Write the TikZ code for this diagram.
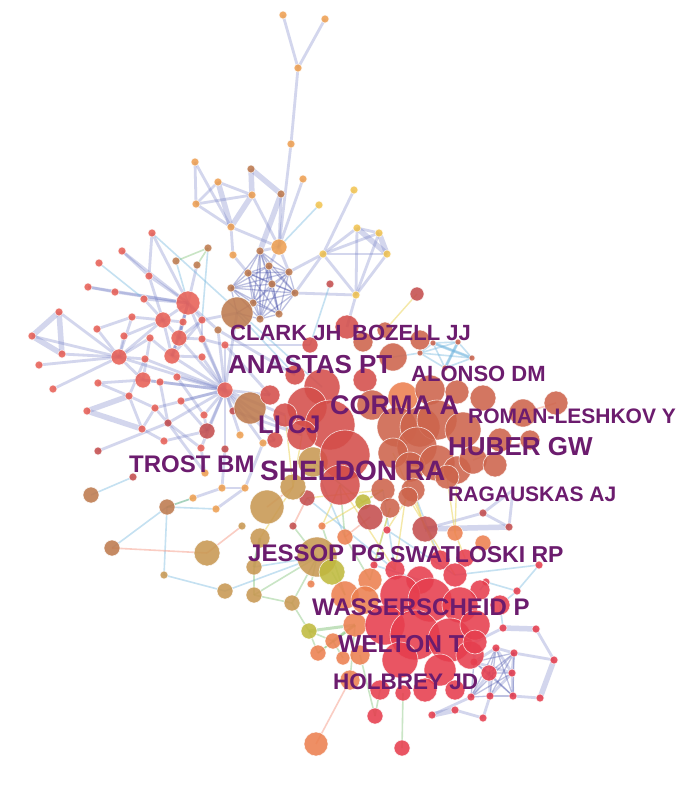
\documentclass[tikz,border=0pt]{standalone}
\usepackage{fontspec}
\setmainfont{Liberation Sans}
\definecolor{cR}{RGB}{232,96,86}
\definecolor{cO}{RGB}{238,160,82}
\definecolor{cB}{RGB}{190,122,78}
\definecolor{cY}{RGB}{242,196,82}
\definecolor{cT}{RGB}{200,152,82}
\definecolor{cD}{RGB}{196,78,78}
\definecolor{cC}{RGB}{205,100,76}
\definecolor{cRd}{RGB}{212,78,74}
\definecolor{cW}{RGB}{230,62,78}
\definecolor{cP}{RGB}{236,128,80}
\definecolor{cL}{RGB}{192,186,62}
\definecolor{lblc}{RGB}{108,28,110}
\definecolor{eblue}{RGB}{110,122,196}
\definecolor{ecyan}{RGB}{110,180,222}
\definecolor{egreen}{RGB}{120,190,110}
\definecolor{eyel}{RGB}{236,214,96}
\definecolor{epink}{RGB}{246,156,136}
\definecolor{edark}{RGB}{70,80,170}
\pgfdeclarelayer{bg}
\pgfdeclarelayer{edgelayer}
\pgfsetlayers{bg,edgelayer,main}
\tikzset{
  nd/.style={circle,inner sep=0pt,draw=white,draw opacity=0.8,line width=0.6pt,fill opacity=0.88},
  eb/.style={draw=eblue,opacity=0.3,line width=2.8pt},
  ebt/.style={draw=eblue,opacity=0.3,line width=5.5pt},
  ec/.style={draw=ecyan,opacity=0.4,line width=1.6pt},
  ect/.style={draw=ecyan,opacity=0.45,line width=3pt},
  eg/.style={draw=egreen,opacity=0.4,line width=1.6pt},
  egt/.style={draw=egreen,opacity=0.45,line width=3pt},
  ey/.style={draw=eyel,opacity=0.55,line width=1.4pt},
  eo/.style={draw=epink,opacity=0.5,line width=1.6pt},
  ed/.style={draw=edark,opacity=0.35,line width=1.3pt},
  lbl/.style={anchor=west,inner sep=0pt,text=lblc}
}
\newcommand\authlab[5]{%
  \node[lbl,font=\fontsize{#4}{#4}\selectfont\bfseries] (#1) at (#2,#3) {#5};}
\begin{document}
\begin{tikzpicture}[x=1pt,y=-1pt]
\begin{pgfonlayer}{bg}
\fill[white] (0,0) rectangle (700,793);
\end{pgfonlayer}
\useasboundingbox (0,0) rectangle (700,793);
% ---------- nodes: periphery ----------
\foreach \n/\x/\y/\r/\c in {
 a1/283/15/4/cO, a2/325/19/4/cO, a3/298/68/4/cO, a4/291/144/4/cO, a5/303/179/4/cO,
 a6/195/162/4/cO, a7/218/182/4/cO, a8/251/169/4/cB, a9/252/195/4/cO, a10/281/194/4/cB,
 a11/196/204/4/cO, a12/231/227/4/cO, a13/319/205/4/cY, a14/279/247/8/cO, a15/233/255/4/cO,
 a16/323/254/4/cY, a17/354/190/4/cY, a18/357/228/4/cY, a19/379/233/4/cY, a20/387/254/4/cY,
 a21/356/295/4/cY, a22/330/284/4/cD,
 d1/260/251/4/cB, d2/269/266/4/cB, d3/289/272/4/cB, d4/248/273/4/cB, d5/272/284/4/cB,
 d6/231/288/4/cB, d7/295/293/4/cB, d8/253/303/4/cB, d9/279/314/4/cB, d10/260/319/4/cB,
 b1/152/233/4/cR, b2/122/251/4/cR, b3/99/263/4/cR, b4/88/287/4/cR, b5/115/292/4/cR,
 b6/149/276/4/cR, b7/144/299/4/cR, b8/176/261/4/cB, b9/197/265/4/cB, b10/208/248/4/cB,
 b11/188/303/12/cR, b12/163/320/8/cR, b13/183/322/4/cR, b14/202/320/4/cR, b15/132/317/4/cR,
 b16/179/338/8/cR, b17/150/338/4/cR, b18/124/336/4/cR, b19/97/329/4/cR, b20/59/312/4/cR,
 b21/32/336/4/cR, b22/62/354/4/cR, b23/39/365/4/cR, b24/53/389/4/cR, b25/119/357/8/cR,
 b26/145/359/4/cR, b27/172/356/8/cR, b28/202/339/4/cR, b29/202/357/4/cR, b30/225/345/4/cR,
 b31/218/330/4/cB, b32/143/380/8/cR, b33/160/382/4/cR, b34/177/377/4/cR, b35/225/390/8/cR,
 b36/98/383/4/cR, b37/129/396/4/cR, b38/155/408/4/cR, b39/181/401/4/cR, b40/204/415/4/cR,
 b41/168/423/4/cD, b42/207/431/8/cD, b43/87/411/4/cR, b44/142/429/4/cR, b45/164/441/4/cR,
 b46/98/451/4/cD, b47/201/448/4/cR, b48/225/449/4/cD, b49/233/411/4/cD, b50/240/435/4/cO,
 b51/133/477/4/cD, b52/263/443/4/cO,
 c1/205/473/4/cO, c2/222/488/4/cO, c3/245/488/4/cO, c4/193/498/4/cO, c5/216/509/4/cO,
 c6/91/495/8/cB, c7/167/507/8/cB, c10/112/548/8/cB, c11/207/553/13/cT, c12/164/575/4/cT,
 c13/225/591/8/cT, c14/254/595/8/cT, c15/292/603/8/cT, c16/254/567/8/cT, c17/242/526/4/cT,
 c18/260/538/10/cT, c27/293/526/4/cD, c28/322/526/4/cP, c30/307/498/8/cD,
 e1/402/748/8/cW, e2/375/716/8/cW, e3/403/693/8/cW,
 e5/496/648/4/cW, e6/514/653/4/cW, e7/554/660/4/cW, e8/540/698/4/cW, e9/513/696/4/cW,
 e10/490/696/4/cW, e11/471/697/4/cW, e12/474/662/4/cW, e13/512/673/4/cW, e14/432/715/4/cW,
 e15/455/710/4/cW, e16/483/718/4/cW, e17/503/628/4/cW, e18/536/629/4/cW, e19/517/591/4/cW,
 e20/486/582/4/cW, e21/539/565/4/cW, e22/509/527/4/cD, e25/374/565/4/cW, e26/483/513/4/cD,
 e29/483/543/8/cP, e31/387/530/4/cW,
 lb1/433/343/3/cC, lb2/458/342/3/cC, lb3/472/358/3/cC, lb4/445/368/3/cC, lb5/420/353/3/cC,
 k4/417/294/7/cD, k46/310/345/8/cRd, k47/275/440/8/cRd}{\node[nd,fill=\c,minimum size=\r*2pt] (\n) at (\x,\y) {};}
% ---------- nodes: big clusters ----------
\foreach \n/\x/\y/\r/\c in {
 bigA/237/313/16/cB, bigB/250/408/16/cB,
 c8/267/507/17/cT, c9/293/487/13/cT, c19/317/557/20/cT, c20/332/572/13/cL, c21/311/584/4/cP,
 c22/309/631/8/cL, c23/318/653/8/cP, c24/333/641/8/cP, c25/343/658/7/cP, c26/316/744/12/cP,
 c29/345/537/8/cP, c31/363/502/8/cL,
 k1/347/327/12/cRd, k2/363/342/10/cC, k3/393/357/14/cC, k5/322/387/18/cRd, k6/307/407/20/cRd,
 k7/330/425/25/cRd, k8/302/435/15/cRd, k36/285/415/12/cRd, k37/270/395/10/cRd, k38/295/375/10/cRd,
 k39/420/340/10/cC, k40/385/330/8/cC, k34/365/380/12/cRd, k35/372/405/15/cC,
 k10/313/462/15/cT, k9/345/455/25/cRd, k11/340/485/20/cRd,
 k12/403/397/15/cP, k13/430/390/15/cC, k14/457/392/12/cC, k15/483/398/13/cC, k16/523/413/14/cC,
 k17/556/403/12/cC, k18/397/427/20/cC, k19/420/427/20/cC, k20/437/420/20/cC, k21/463/430/18/cC,
 k22/417/447/20/cC, k23/393/453/15/cC, k24/410/467/15/cC, k25/437/463/18/cC, k26/457/470/14/cC,
 k27/473/460/14/cC, k28/447/477/12/cC, k29/383/490/12/cC, k30/413/490/12/cC, k32/408/497/10/cC,
 k33/390/508/10/cC, k42/500/440/12/cC, k43/495/465/12/cC, k44/530/440/10/cC,
 e32/370/517/13/cD, e23/425/529/13/cD, e24/455/533/8/cP,
 w17/345/595/14/cP, w18/370/580/12/cP, w15/365/600/14/cP, w16/355/625/12/cP, w26/360/655/10/cP,
 w22/350/680/10/cP, w19/395/570/10/cW, w20/440/560/10/cW, w21/465/558/9/cW,
 w11/420/580/14/cW, w12/455/575/12/cW, w13/480/590/10/cW, w14/500/605/10/cW,
 w1/400/595/20/cW, w2/430/600/22/cW, w3/460/605/18/cW, w4/385/625/20/cW, w5/415/635/25/cW,
 w6/450/640/22/cW, w7/475/625/15/cW, w8/400/660/18/cW, w9/440/670/16/cW, w10/470/655/14/cW,
 w23/380/690/10/cW, w24/425/690/12/cW, w25/455/690/10/cW, w27/475/642/12/cW,
 e4/489/673/8/cW}{\node[nd,fill=\c,minimum size=\r*2pt] (\n) at (\x,\y) {};}
\coordinate (rg1) at (513,490);
% ---------- edges ----------
\begin{pgfonlayer}{edgelayer}
\foreach \a/\b in {a1/a3,a2/a3,a3/a4,a4/a14,a6/a11,a6/a12,a7/a11,a7/a9,a11/a9,a11/a12,
 a9/a14,a10/a14,a5/a14,a12/a15,a12/a14,a15/d4,a16/a17,a16/a18,a16/a19,a16/a20,a16/a21,
 a18/a19,a18/a21,a20/a21,a19/a21,a16/d7,a16/d3,a21/d7,a21/k1,a14/d1,a14/d2,a14/d3,
 b1/b11,b2/b6,b2/b11,b4/b5,b4/b11,b5/b11,b6/b11,b7/b11,b7/b12,b9/b11,b11/b12,b11/b13,
 b11/b14,b11/b16,b11/b27,b11/b35,b12/b15,b12/b25,b12/b16,b12/b13,b13/b27,b14/b28,b14/b16,
 b15/b25,b15/b19,b16/b27,b16/b28,b16/b35,b17/b25,b17/b27,b18/b25,b19/b25,b20/b25,b21/b25,
 b22/b25,b23/b25,b24/b25,b25/b26,b25/b32,b25/b35,b26/b35,b27/b35,b27/b29,b28/b30,b29/b35,
 b30/b35,b31/b35,b32/b33,b32/b35,b32/b36,b33/b35,b34/b35,b36/b37,b37/b38,b37/b44,b38/b35,
 b39/b35,b40/b35,b41/b35,b42/b35,b44/b45,b45/b42,b46/b41,b47/b35,b48/b35,b49/b35,b50/b35,
 b52/b35,b35/bigB,b35/bigA,b33/b41,b34/b40,b39/b42,b40/b42,b44/b38,b38/b41,b26/b37,
 b41/b47,b35/k36,b35/k47,bigB/k8,b30/k46,b12/b27,b13/b16,b14/b27,b28/b35,b1/b6,b6/b12,
 b17/b32,b18/b12,c2/c3,c2/b48,c3/b52,c4/c2,c5/c3,c1/b47,c1/b41,b52/k47,
 b35/k37,b49/k8,b30/k37,b31/k38,b11/b31,b14/bigA,
 e26/e22,e23/e26,e26/rg1,e22/rg1,e6/e7,e18/e7,e15/e16,e10/e16,e11/e14,e12/w27,e17/w27,
 e5/e12,e5/e13,e6/e13,e4/e13,e9/e13,e10/e13,e4/e10,e4/e11,e12/e13,e9/e8,e5/e6}{\draw[eb] (\a.center) -- (\b.center);}
\foreach \a/\b in {a7/a12,a8/a9,a8/a10,a9/a12,a10/d1,a18/a20,a19/a20,b20/b21,b20/b22,b21/b22,
 b43/b44,e23/e22,e17/e18,e7/e8,e14/e15,b37/b43}{\draw[ebt] (\a.center) -- (\b.center);}
\foreach \a/\b in {d1/d2,d1/d3,d1/d4,d1/d5,d1/d6,d1/d7,d1/d8,d1/d9,d1/d10,d2/d3,d2/d4,d2/d5,
 d2/d6,d2/d7,d2/d8,d2/d9,d2/d10,d3/d4,d3/d5,d3/d6,d3/d7,d3/d8,d3/d9,d3/d10,d4/d5,d4/d6,d4/d7,
 d4/d8,d4/d9,d4/d10,d5/d6,d5/d7,d5/d8,d5/d9,d5/d10,d6/d7,d6/d8,d6/d9,d6/d10,d7/d8,d7/d9,
 d7/d10,d8/d9,d8/d10,d9/d10,d6/bigA,d8/bigA,d10/bigA,
 e4/e5,e4/e6,e4/e12,e4/e9,e5/e9,e5/e10,e6/e9,e6/e10,e6/e12,e9/e10,e10/e11,e11/e12,e12/e9,
 e13/e11,e5/e11,e6/e11}{\draw[ed] (\a.center) -- (\b.center);}
\foreach \a/\b in {a13/a14,b3/b7,b8/b11,b10/b14,c6/b51,c7/c5,c10/c7,c12/c7,c12/c13,c13/c19,
 c16/c19,a22/k46,lb1/lb2,lb1/lb3,lb1/lb4,lb1/lb5,lb2/lb3,lb2/lb4,lb2/lb5,lb3/lb4,lb3/lb5,
 lb4/lb5,lb5/k3,w14/e19,e19/e20,e20/w13,e21/w12,e21/e19,e25/w11,k29/w19,k30/w20,
 b1/k5,bigA/k38,c4/c7,e17/w14,c30/w19,k10/c29,e31/w12}{\draw[ec] (\a.center) -- (\b.center);}
\foreach \a/\b in {lb1/lb3,lb2/lb4}{\draw[ect] (\a.center) -- (\b.center);}
\foreach \a/\b in {b8/b10,b10/b9,c7/c4,c16/c14,c14/c19,c15/c14,c15/c19,c22/c24,c22/c23,
 c23/c24,c24/c25,c23/w16,e1/e3,e2/w23,k11/c29,k33/w18,c20/w17,c18/c16,w26/e2,c19/c21,
 k10/c31,k29/c31,c29/w18,w22/w16,c22/c15,c27/c19,c28/w17}{\draw[eg] (\a.center) -- (\b.center);}
\foreach \a/\b in {c16/c18,c22/w16,c24/w16}{\draw[egt] (\a.center) -- (\b.center);}
\foreach \a/\b in {k4/k40,k32/e31,k29/c28,k23/w20,k26/e24,k28/e24,k36/c9,k8/c9,k30/e23,
 k11/c28,c30/k29,k33/e25,k24/w19,e24/w21,c9/c18,k32/w12,k11/w19}{\draw[ey] (\a.center) -- (\b.center);}
\foreach \a/\b in {c11/c17,c8/c9,c26/w22,k16/k17,k27/k44,c30/c27,e32/c29,c11/c10}{\draw[eo] (\a.center) -- (\b.center);}
\end{pgfonlayer}
% ---------- labels ----------
\authlab{lclark}{230}{333}{22}{CLARK JH}
\authlab{lbozell}{352}{333}{22}{BOZELL JJ}
\authlab{lanastas}{228}{365}{26}{ANASTAS PT}
\authlab{lalonso}{411}{374}{22}{ALONSO DM}
\authlab{lcorma}{330}{405}{27}{CORMA A}
\authlab{lroman}{468}{416}{21}{ROMAN-LESHKOV Y}
\authlab{llicj}{258}{425}{25.5}{LI CJ}
\authlab{lhuber}{448}{447}{26}{HUBER GW}
\authlab{ltrost}{129}{464}{24}{TROST BM}
\authlab{lsheldon}{260}{471}{28}{SHELDON RA}
\authlab{lragauskas}{448}{494}{21}{RAGAUSKAS AJ}
\authlab{ljessop}{248}{553}{24}{JESSOP PG}
\authlab{lswatloski}{390}{555}{23}{SWATLOSKI RP}
\authlab{lwasser}{312}{607}{24}{WASSERSCHEID P}
\authlab{lwelton}{338}{644}{24.5}{WELTON T}
\authlab{lholbrey}{333}{682}{22.5}{HOLBREY JD}
\end{tikzpicture}
\end{document}
